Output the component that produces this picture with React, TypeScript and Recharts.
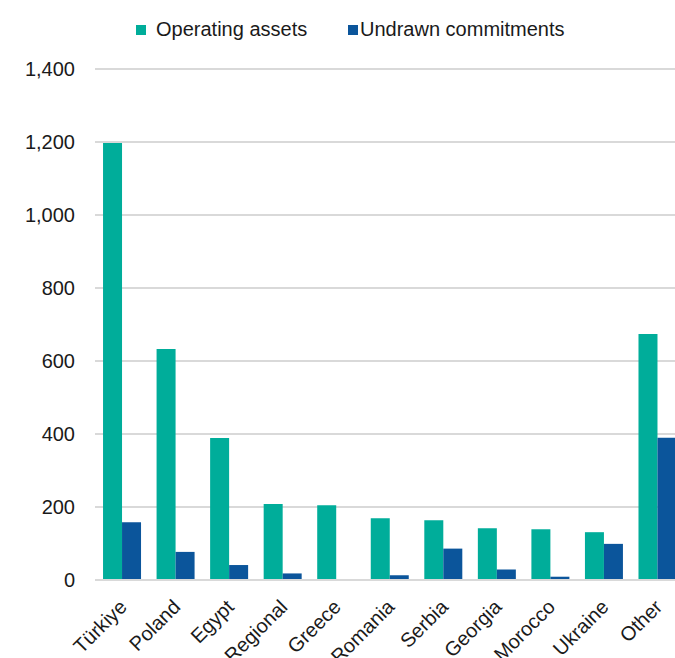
import { BarChart, Bar, XAxis, YAxis, CartesianGrid } from "recharts";

const countries = [
  "Türkiye",
  "Poland",
  "Egypt",
  "Regional",
  "Greece",
  "Romania",
  "Serbia",
  "Georgia",
  "Morocco",
  "Ukraine",
  "Other",
];
const operatingAssets = [1197, 633, 389, 208, 205, 169, 164, 142, 139, 131, 674];
const undrawnCommitments = [158, 77, 41, 18, 0, 13, 86, 29, 9, 99, 390];
const yTicks = [0, 200, 400, 600, 800, 1000, 1200, 1400];

const TEAL = "#00ad9a";
const BLUE = "#0b559b";
const FONT = "'Liberation Sans', Arial, sans-serif";

const data = countries.map((name, i) => ({
  name,
  operating: operatingAssets[i],
  undrawn: undrawnCommitments[i],
}));

function CountryTick(props: any) {
  const { x, y, payload } = props;
  return (
    <g transform={`translate(${x + 2},${y + 16}) rotate(-45)`}>
      <text x={0} y={0} dy={6} textAnchor="end" fontSize={20} fill="#1a1a1a" fontFamily={FONT}>
        {payload.value}
      </text>
    </g>
  );
}

// legend drawn as plain html above the plot
function LegendItem({ color, label, left, gap }: { color: string; label: string; left: number; gap: number }) {
  return (
    <div style={{ position: "absolute", top: 18, left, display: "flex", alignItems: "center", whiteSpace: "nowrap" }}>
      <span style={{ width: 10, height: 10, background: color, display: "inline-block", marginRight: gap }} />
      <span>{label}</span>
    </div>
  );
}

export default function App() {
  return (
    <div
      style={{
        position: "absolute",
        left: 0,
        top: 0,
        width: 675,
        height: 658,
        overflow: "hidden",
        background: "#fff",
        fontFamily: FONT,
        fontSize: 20,
        color: "#1a1a1a",
        lineHeight: "23px",
      }}
    >
      <LegendItem color={TEAL} label="Operating assets" left={136} gap={10} />
      <LegendItem color={BLUE} label="Undrawn commitments" left={348} gap={2} />
      <BarChart
        width={690}
        height={658}
        data={data}
        margin={{ top: 69, right: 6, left: 0, bottom: 0 }}
        barCategoryGap="15%"
        barGap={0}
      >
        <CartesianGrid vertical={false} stroke="#d9d9d9" strokeWidth={2} />
        <XAxis
          dataKey="name"
          height={78}
          interval={0}
          tickLine={false}
          axisLine={{ stroke: "#d9d9d9", strokeWidth: 2 }}
          tick={<CountryTick />}
        />
        <YAxis
          width={95}
          domain={[0, 1400]}
          ticks={yTicks}
          interval={0}
          axisLine={false}
          tickLine={false}
          tickSize={0}
          tickMargin={20}
          tickFormatter={(v: number) => v.toLocaleString("en-US")}
          tick={{ fontSize: 20, fill: "#1a1a1a", fontFamily: FONT }}
        />
        <Bar dataKey="operating" fill={TEAL} isAnimationActive={false} />
        <Bar dataKey="undrawn" fill={BLUE} isAnimationActive={false} />
      </BarChart>
    </div>
  );
}
